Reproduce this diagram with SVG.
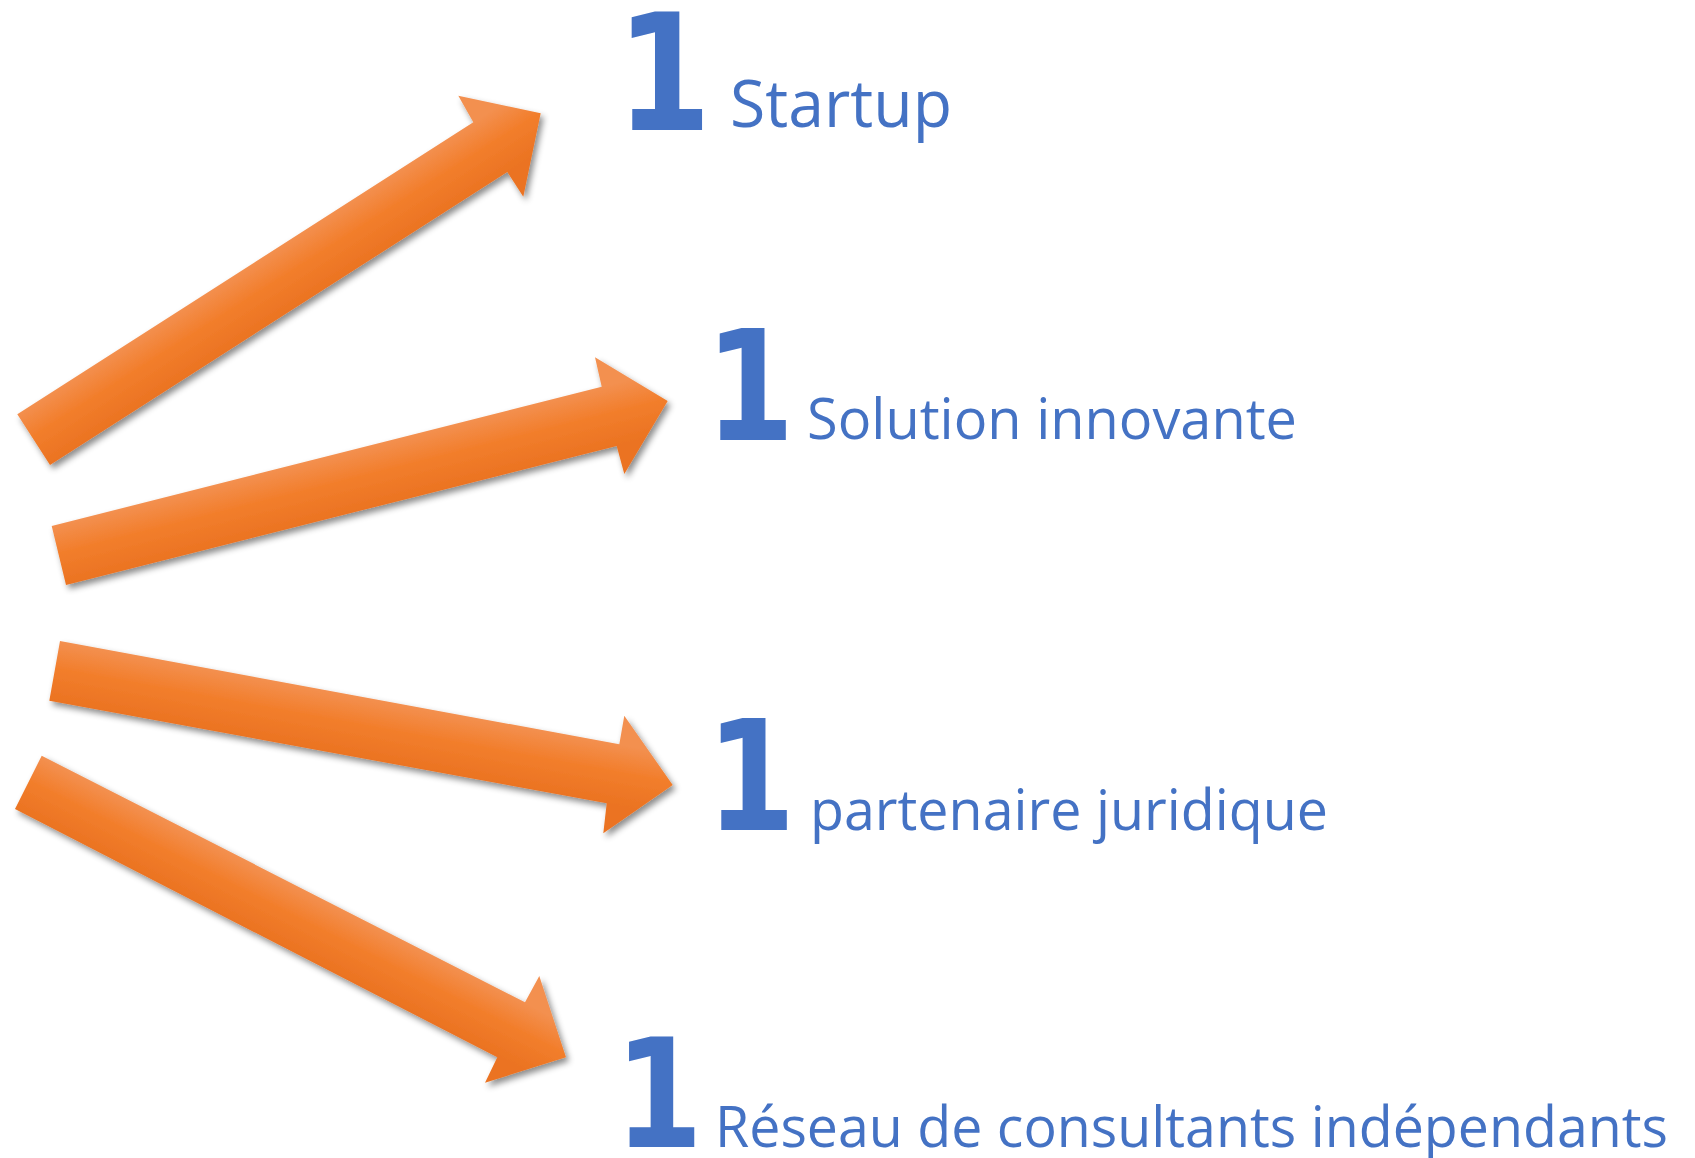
<svg xmlns="http://www.w3.org/2000/svg" width="1695" height="1158" viewBox="0 0 1695 1158">
  <style>
    .num { font-family: "DejaVu Sans", "Liberation Sans", sans-serif; font-weight: bold; fill: #4472C4; text-anchor: middle; }
    .lbl { font-family: "Open Sans", "Liberation Sans", sans-serif; fill: #4472C4; }
    .arrow { filter: url(#shadow); }
  </style>
  <defs>
    <filter id="shadow" x="-10%" y="-10%" width="125%" height="130%">
      <feDropShadow dx="3" dy="4" stdDeviation="3" flood-color="#000000" flood-opacity="0.45"/>
    </filter>
    <linearGradient id="g1" gradientUnits="userSpaceOnUse" x1="245.6" y1="267.3" x2="278.4" y2="318.7">
      <stop offset="0" stop-color="#F39050"/>
      <stop offset="0.45" stop-color="#F27E2C"/>
      <stop offset="1" stop-color="#EB7322"/>
    </linearGradient>
    <linearGradient id="g2" gradientUnits="userSpaceOnUse" x1="326.5" y1="456.5" x2="341.5" y2="515.5">
      <stop offset="0" stop-color="#F39050"/>
      <stop offset="0.45" stop-color="#F27E2C"/>
      <stop offset="1" stop-color="#EB7322"/>
    </linearGradient>
    <linearGradient id="g3" gradientUnits="userSpaceOnUse" x1="339.3" y1="692.5" x2="328.3" y2="752.1">
      <stop offset="0" stop-color="#F39050"/>
      <stop offset="0.45" stop-color="#F27E2C"/>
      <stop offset="1" stop-color="#EB7322"/>
    </linearGradient>
    <linearGradient id="g4" gradientUnits="userSpaceOnUse" x1="283.3" y1="879.5" x2="256.3" y2="932.5">
      <stop offset="0" stop-color="#F39050"/>
      <stop offset="0.45" stop-color="#F27E2C"/>
      <stop offset="1" stop-color="#EB7322"/>
    </linearGradient>
  </defs>
  <rect x="0" y="0" width="1695" height="1158" fill="#FFFFFF"/>

  <g id="connectors">
    <polygon id="arrow-startup" class="arrow" fill="url(#g1)" points="17.3,414.3 473.3,122.3 458.3,95.7 540.7,113.3 523.3,196.7 507.3,172 50,465"/>
    <polygon id="arrow-solution" class="arrow" fill="url(#g2)" points="51.7,526 601.7,386.7 595,357.3 667.7,401 624.3,474 616.7,446 66,585"/>
    <polygon id="arrow-partenaire" class="arrow" fill="url(#g3)" points="60,641 619.3,744.3 624.3,715.7 672.7,785 603.3,833.3 606.7,803.3 49.3,700.7"/>
    <polygon id="arrow-reseau" class="arrow" fill="url(#g4)" points="41.7,755.7 525,1002.3 539.3,976 566,1057.3 485,1082.7 497.3,1057.3 15,809"/>
  </g>

  <g id="node-startup">
    <text class="num" transform="translate(664,130) scale(0.84,1)" x="0" y="0" font-size="163">1</text>
    <text class="lbl" x="730" y="127" font-size="66" textLength="222" lengthAdjust="spacingAndGlyphs">Startup</text>
  </g>
  <g id="node-solution">
    <text class="num" transform="translate(750,440) scale(0.84,1)" x="0" y="0" font-size="153">1</text>
    <text class="lbl" x="807" y="439" font-size="57" textLength="490" lengthAdjust="spacingAndGlyphs">Solution innovante</text>
  </g>
  <g id="node-partenaire">
    <text class="num" transform="translate(751,830) scale(0.84,1)" x="0" y="0" font-size="153">1</text>
    <text class="lbl" x="810" y="830" font-size="57" textLength="518" lengthAdjust="spacingAndGlyphs">partenaire juridique</text>
  </g>
  <g id="node-reseau">
    <text class="num" transform="translate(659,1147) scale(0.84,1)" x="0" y="0" font-size="151">1</text>
    <text class="lbl" x="715" y="1147" font-size="57" textLength="953" lengthAdjust="spacingAndGlyphs">Réseau de consultants indépendants</text>
  </g>
</svg>
